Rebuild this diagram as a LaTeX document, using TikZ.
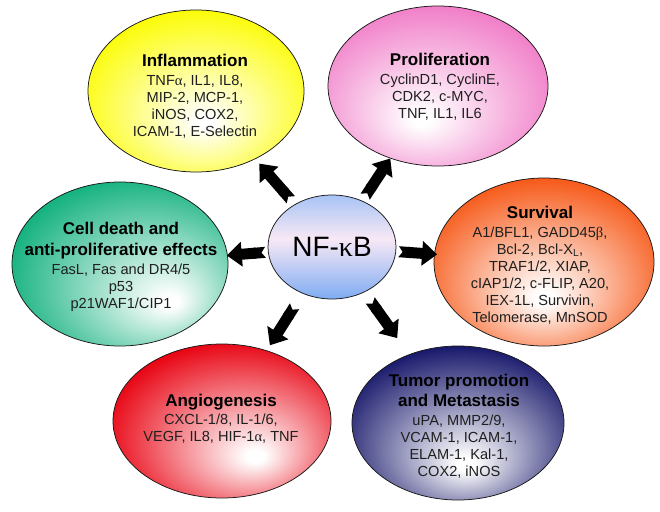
\documentclass[tikz,border=0pt]{standalone}
\usepackage{fontspec}
\setmainfont{Liberation Sans}
\newfontfamily\grk{Liberation Serif}
\usetikzlibrary{shapes.geometric,arrows.meta}
\definecolor{cyel}{RGB}{252,252,0}
\definecolor{cpink}{RGB}{240,120,198}
\definecolor{corange}{RGB}{246,80,12}
\definecolor{cgreen}{RGB}{22,178,128}
\definecolor{cred}{RGB}{232,0,15}
\definecolor{cblue}{RGB}{20,20,105}
\definecolor{nfblue}{RGB}{90,150,240}
\definecolor{nfmid}{RGB}{248,232,245}
\pgfdeclareradialshading{shyel}{\pgfpoint{2bp}{-10bp}}{color(0bp)=(white); color(2bp)=(white); color(30bp)=(cyel); color(50bp)=(cyel)}
\pgfdeclareradialshading{shpink}{\pgfpoint{-4bp}{-11bp}}{color(0bp)=(white); color(2bp)=(white); color(31bp)=(cpink); color(50bp)=(cpink)}
\pgfdeclareradialshading{shorange}{\pgfpoint{0bp}{-11bp}}{color(0bp)=(white); color(2bp)=(white); color(31bp)=(corange); color(50bp)=(corange)}
\pgfdeclareradialshading{shgreen}{\pgfpoint{12bp}{-12bp}}{color(0bp)=(white); color(2bp)=(white); color(31bp)=(cgreen); color(50bp)=(cgreen)}
\pgfdeclareradialshading{shred}{\pgfpoint{8bp}{-12bp}}{color(0bp)=(white); color(2bp)=(white); color(31bp)=(cred); color(50bp)=(cred)}
\pgfdeclareradialshading{shblue}{\pgfpoint{2bp}{-14bp}}{color(0bp)=(white); color(2bp)=(white); color(31bp)=(cblue); color(50bp)=(cblue)}
\pgfdeclareverticalshading{shnf}{100bp}{color(0bp)=(nfblue); color(22bp)=(nfblue!85!white); color(54bp)=(nfmid); color(80bp)=(nfblue!65!white); color(100bp)=(nfblue!80!white)}
\newcommand\ttl[1]{{\fontsize{17}{20}\selectfont\bfseries\color{black}#1}}
\begin{document}
\begin{tikzpicture}[x=1pt,y=-1pt,
  bubble/.style={ellipse, draw=black!90, line width=0.75pt, inner sep=0pt},
  txt/.style={align=center, inner sep=0pt, text=black!88, font=\fontsize{14.6}{17}\selectfont},
  blockarrow/.style={line width=11pt, draw=black, {Triangle Cap[reversed,length=4pt]}-{Triangle[width=24pt,length=15pt]}}]
\fill[white] (0,0) rectangle (660,511);
\useasboundingbox (0,0) rectangle (660,511);
% ellipses
\node[bubble, minimum width=216pt, minimum height=162pt, shading=shyel] (infl) at (196,91) {};
\node[bubble, minimum width=220pt, minimum height=160pt, shading=shpink] (prol) at (438,86) {};
\node[bubble, minimum width=220pt, minimum height=168pt, shading=shorange] (surv) at (544,262) {};
\node[bubble, minimum width=216pt, minimum height=164pt, shading=shgreen] (cell) at (120,264) {};
\node[bubble, minimum width=218pt, minimum height=154pt, shading=shred] (angio) at (222,421) {};
\node[bubble, minimum width=212pt, minimum height=154pt, shading=shblue] (tumor) at (458,423) {};
\node[bubble, minimum width=128pt, minimum height=104pt, shading=shnf, text=black] (nf) at (332,247)
  {\fontsize{28}{30}\selectfont NF-{\grk κ}B};
% texts
\node[txt] (infltxt) at (195,96)
  {\ttl{Inflammation}\\[2.2pt] TNF{\grk α}, IL1, IL8,\\ MIP-2, MCP-1,\\ iNOS, COX2,\\ ICAM-1, E-Selectin};
\node[txt] (proltxt) at (440,87)
  {\ttl{Proliferation}\\[2.2pt] CyclinD1, CyclinE,\\ CDK2, c-MYC,\\ TNF, IL1, IL6};
\node[txt] (survtxt) at (540,265)
  {\ttl{Survival}\\[2.2pt] A1/BFL1, GADD45{\grk β},\\ Bcl-2, Bcl-X\textsubscript{L},\\ TRAF1/2, XIAP,\\ cIAP1/2, c-FLIP, A20,\\ IEX-1L, Survivin,\\ Telomerase, MnSOD};
\node[txt] (celltxt) at (121,267)
  {\ttl{Cell death and}\\[3.2pt] \ttl{anti-proliferative effects}\\[2.2pt] FasL, Fas and DR4/5\\ p53\\ p21WAF1/CIP1};
\node[txt] (angiotxt) at (221,419)
  {\ttl{Angiogenesis}\\[1.2pt] CXCL-1/8, IL-1/6,\\ VEGF, IL8, HIF-1{\grk α}, TNF};
\node[txt] (tumortxt) at (459,426)
  {\ttl{Tumor promotion}\\[3.2pt] \ttl{and Metastasis}\\[2.2pt] uPA, MMP2/9,\\ VCAM-1, ICAM-1,\\ ELAM-1, Kal-1,\\ COX2, iNOS};
% arrows
\draw[blockarrow, shorten <=6pt, shorten >=6pt] (nf) -- (infl);
\draw[blockarrow, shorten <=5pt, shorten >=0pt] (nf) -- (prol);
\draw[blockarrow, shorten <=2.5pt, shorten >=-3pt] (nf) -- (surv);
\draw[blockarrow, shorten <=2.5pt, shorten >=-1pt] (nf) -- (cell);
\draw[blockarrow, shorten <=15pt, shorten >=6pt] (nf) -- (angio);
\draw[blockarrow, shorten <=10pt, shorten >=20pt] (nf) -- (tumor);
\end{tikzpicture}
\end{document}
